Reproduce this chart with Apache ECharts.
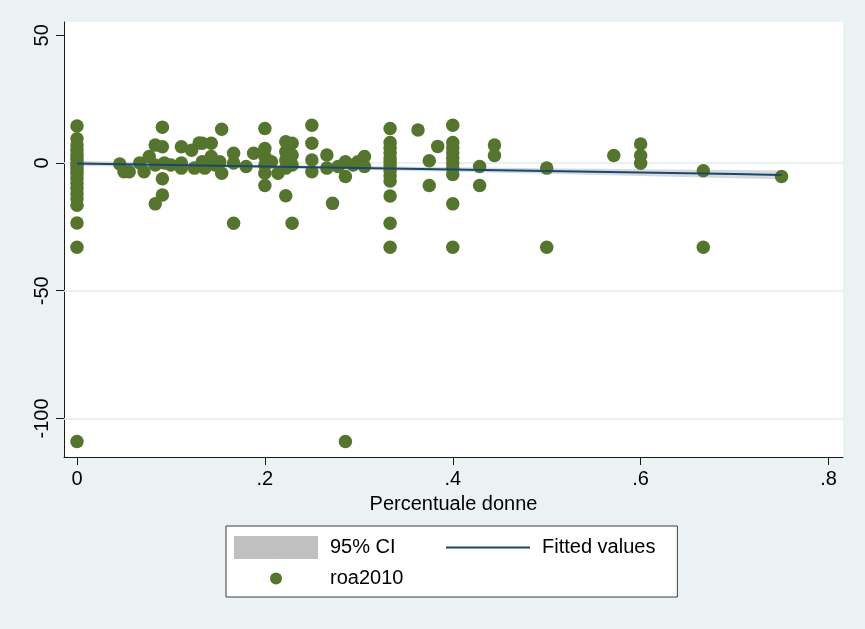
<!DOCTYPE html>
<html><head><meta charset="utf-8">
<script src="https://cdn.jsdelivr.net/npm/echarts@6/dist/echarts.min.js"></script>
<style>html,body{margin:0;padding:0;background:#eaf2f3}#c{width:865px;height:629px}</style>
</head><body><div id="c"></div>
<script>
// ---- tick labels ----
const xTicks = [0, 0.2, 0.4, 0.6, 0.8];
const xTickLabels = ['0', '.2', '.4', '.6', '.8'];
const yTicks = [-100, -50, 0, 50];
const yTickLabels = ['-100', '-50', '0', '50'];
const yGridValues = [-100, -50, 0];

// ---- roa2010 scatter (x = Percentuale donne) ----
const roaX = [
  0,0,0,0,0,0,0,0,0,0,0,0,0,0,0,0,0,0,0,
  0.0455,0.05,0.0556,0.0667,0.0714,0.0769,0.0833,0.0833,0.0833,0.0909,0.0909,0.0909,0.0909,0.093,0.1,0.1111,0.1111,0.1111,0.122,0.125,0.13,0.1333,0.1333,0.136,0.1429,0.1429,0.147,0.152,0.154,0.154,0.1667,0.1667,0.1667,0.18,0.188,
  0.2,0.2,0.2,0.2,0.2,0.2,0.207,0.214,0.2222,0.2222,0.2222,0.2222,0.2222,0.229,0.229,0.229,0.229,0.25,0.25,0.25,0.25,0.266,0.266,0.272,0.278,0.2857,0.2857,0.2857,0.294,0.299,0.306,0.306,
  0.3333,0.3333,0.3333,0.3333,0.3333,0.3333,0.3333,0.3333,0.3333,0.3333,0.3333,0.3333,0.3333,
  0.363,0.375,0.375,0.384,
  0.4,0.4,0.4,0.4,0.4,0.4,0.4,0.4,0.4,0.4,
  0.4286,0.4286,0.4444,0.4444,0.5,0.5,0.5714,0.6,0.6,0.6,0.6667,0.6667,0.75
];
const roaY = [
  14.5,9.5,7,5,3,1.5,0,-1,-2.5,-4,-6,-8,-10,-12,-14,-16.5,-23.5,-33,-109,
  -0.4,-3.4,-3.4,0,-3.4,2.5,-0.8,7,-16,14,6.4,-6.2,-12.5,0,-0.8,6.4,0,-2,5,-2,7.8,7.7,0.5,-2,7.7,2.5,-0.8,0.5,13.2,-4,3.8,0,-23.6,-1.4,3.8,
  13.5,5.7,2.5,-0.8,-4,-8.8,0.5,-4,8.3,4.4,1.2,-2,-12.8,7.7,3.1,-0.8,-23.6,14.8,7.7,1.2,-3.4,3.1,-2,-15.8,-1.4,0.5,-5.3,-109,-0.8,0.5,2.5,-1.4,
  13.5,8,6,4,2,0.5,-1,-3,-5,-7,-12.9,-23.6,-33,
  12.9,0.9,-8.8,6.5,
  14.8,8,6,4,2,0,-2,-4.5,-16,-33,
  -1.4,-8.8,7,2.9,-2,-33,2.9,7.4,2.9,-0.1,-3,-33,-5.3
];

// ---- fitted values and 95% CI ----
const fitX   = [0, 0.1, 0.2, 0.3, 0.4, 0.5, 0.6, 0.7, 0.75];
const fitY   = [-0.15, -0.75, -1.35, -1.95, -2.55, -3.15, -3.75, -4.35, -4.65];
const ciLow  = [-1.15, -1.55, -2.05, -2.7, -3.4, -4.25, -5.1, -5.95, -6.4];
const ciHigh = [0.85, 0.05, -0.65, -1.2, -1.7, -2.05, -2.4, -2.75, -2.9];

const FONT = '"Liberation Sans", Arial, Helvetica, sans-serif';
const fmt = (ticks, labels) => v => { const i = ticks.findIndex(t => Math.abs(t - v) < 1e-9); return i >= 0 ? labels[i] : ''; };

const chart = echarts.init(document.getElementById('c'), null, {renderer: 'canvas'});
const option = {
  backgroundColor: '#eaf2f3',
  animation: false,
  textStyle: {fontFamily: FONT},
  grid: {left: 64, right: 22, top: 22, bottom: 172, show: true, backgroundColor: '#ffffff', borderWidth: 0},
  xAxis: {
    type: 'value', min: -0.01384, max: 0.8154,
    axisLine: {onZero: false, lineStyle: {color: '#1a1a1a', width: 1}},
    axisTick: {customValues: xTicks, length: 8, lineStyle: {color: '#1a1a1a'}},
    axisLabel: {customValues: xTicks, formatter: fmt(xTicks, xTickLabels), fontSize: 20, color: '#000', margin: 12, fontFamily: FONT},
    splitLine: {show: false},
    name: 'Percentuale donne', nameLocation: 'middle', nameGap: 37,
    nameTextStyle: {fontSize: 20, color: '#000', fontFamily: FONT}
  },
  yAxis: {
    type: 'value', min: -115.1, max: 55.2,
    axisLine: {show: true, onZero: false, lineStyle: {color: '#1a1a1a', width: 1}},
    axisTick: {show: true, customValues: yTicks, length: 8, lineStyle: {color: '#1a1a1a'}},
    axisLabel: {customValues: yTicks, formatter: fmt(yTicks, yTickLabels), rotate: 90, fontSize: 20, color: '#000', margin: 12, fontFamily: FONT},
    splitLine: {show: false}
  },
  legend: {
    left: 226, top: 526, orient: 'horizontal', width: 500,
    padding: [10, 22, 7, 8],
    backgroundColor: '#ffffff', borderColor: '#3c3c3c', borderWidth: 1, borderRadius: 0,
    itemWidth: 84, itemHeight: 23, itemGap: 8,
    selectedMode: false,
    textStyle: {fontSize: 20, color: '#000', fontFamily: FONT, width: 108, lineHeight: 23, padding: [0, 0, 0, 7]},
    data: [
      {name: '95% CI', icon: 'rect', itemStyle: {color: '#c0c0c0'}},
      {name: 'Fitted values', icon: 'path://M0,0M84,23M0,10.6H84V12.4H0Z', itemStyle: {color: '#1a476f'}},
      {name: 'roa2010', icon: 'path://M0,0M84,23M36,11.5A6,6,0,1,1,48,11.5A6,6,0,1,1,36,11.5Z', itemStyle: {color: '#55752f'}}
    ]
  },
  series: [
    {
      name: '95% CI', type: 'custom', itemStyle: {color: '#c0c0c0'},
      data: [0],
      markLine: {
        silent: true, symbol: 'none', z: 1, label: {show: false},
        lineStyle: {color: '#e4ecef', width: 1.5, type: 'solid'},
        data: yGridValues.map(v => ({yAxis: v}))
      },
      renderItem: (params, api) => {
        const pts = [];
        for (let i = 0; i < fitX.length; i++) pts.push(api.coord([fitX[i], ciHigh[i]]));
        for (let i = fitX.length - 1; i >= 0; i--) pts.push(api.coord([fitX[i], ciLow[i]]));
        return {type: 'polygon', shape: {points: pts}, style: {fill: '#c8cdd2', opacity: 0.75}};
      }
    },
    {
      name: 'Fitted values', type: 'line', showSymbol: false, symbol: 'none',
      data: fitX.map((x, i) => [x, fitY[i]]),
      lineStyle: {color: '#1a476f', width: 2}, itemStyle: {color: '#1a476f'}
    },
    {
      name: 'roa2010', type: 'scatter', symbol: 'circle', symbolSize: 13.5,
      data: roaX.map((x, i) => [x, roaY[i]]),
      itemStyle: {color: '#55752f', opacity: 1}
    }
  ]
};
chart.setOption(option);
</script>
</body></html>
